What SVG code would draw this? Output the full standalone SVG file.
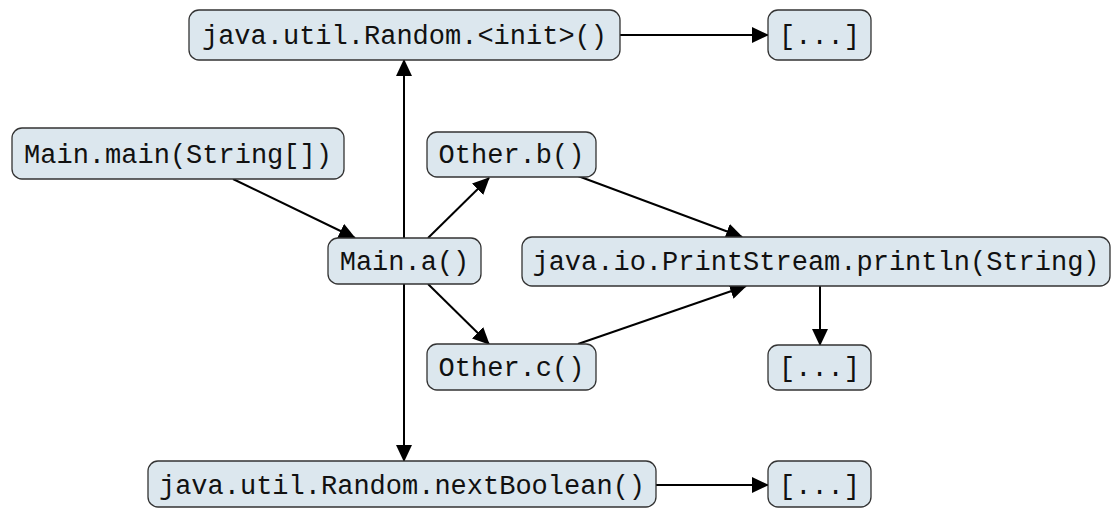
<svg xmlns="http://www.w3.org/2000/svg" width="1113" height="508" viewBox="0 0 1113 508">
<defs>
<marker id="arr" markerUnits="userSpaceOnUse" markerWidth="17" markerHeight="16" refX="16" refY="8" orient="auto">
<path d="M0,0 L17,8 L0,16 Z" fill="#000"/>
</marker>
<style>
.box{fill:#dce7ee;stroke:#333;stroke-width:1.3}
.t{font-family:"Liberation Mono","DejaVu Sans Mono",monospace;font-size:27px;fill:#111;text-anchor:middle}
.e{stroke:#000;stroke-width:2;fill:none;marker-end:url(#arr)}
</style>
</defs>
<rect width="1113" height="508" fill="#fff"/>
<g id="connectors">
<line class="e" x1="404" y1="238" x2="404" y2="60"/>
<line class="e" x1="404" y1="284" x2="404" y2="461"/>
<line class="e" x1="620" y1="35" x2="768" y2="35"/>
<line class="e" x1="656" y1="485" x2="768" y2="485"/>
<line class="e" x1="233" y1="179" x2="355" y2="238"/>
<line class="e" x1="428" y1="238" x2="489" y2="178"/>
<line class="e" x1="428" y1="284" x2="489" y2="344"/>
<line class="e" x1="578" y1="176" x2="742" y2="237"/>
<line class="e" x1="578" y1="344" x2="746" y2="286"/>
<line class="e" x1="820" y1="286" x2="820" y2="345"/>
</g>
<g id="n_random_init"><rect class="box" x="189" y="10" width="431" height="50" rx="10"/><text class="t" x="404.5" y="44">java.util.Random.&lt;init&gt;()</text></g>
<g id="n_more1"><rect class="box" x="768" y="10" width="103" height="50" rx="10"/><text class="t" x="819.5" y="44">[...]</text></g>
<g id="n_main_main"><rect class="box" x="12" y="128" width="332" height="51" rx="10"/><text class="t" x="178" y="163">Main.main(String[])</text></g>
<g id="n_main_a"><rect class="box" x="328" y="238" width="153" height="46" rx="10"/><text class="t" x="404.5" y="270">Main.a()</text></g>
<g id="n_other_b"><rect class="box" x="427" y="132" width="169" height="45" rx="10"/><text class="t" x="511.5" y="163">Other.b()</text></g>
<g id="n_println"><rect class="box" x="522" y="237" width="588" height="49" rx="10"/><text class="t" x="816" y="270">java.io.PrintStream.println(String)</text></g>
<g id="n_other_c"><rect class="box" x="427" y="344" width="169" height="46" rx="10"/><text class="t" x="511.5" y="376">Other.c()</text></g>
<g id="n_more2"><rect class="box" x="768" y="345" width="103" height="45" rx="10"/><text class="t" x="819.5" y="376">[...]</text></g>
<g id="n_next_boolean"><rect class="box" x="148" y="461" width="508" height="46" rx="10"/><text class="t" x="402" y="494">java.util.Random.nextBoolean()</text></g>
<g id="n_more3"><rect class="box" x="768" y="461" width="103" height="46" rx="10"/><text class="t" x="819.5" y="494">[...]</text></g>
</svg>
